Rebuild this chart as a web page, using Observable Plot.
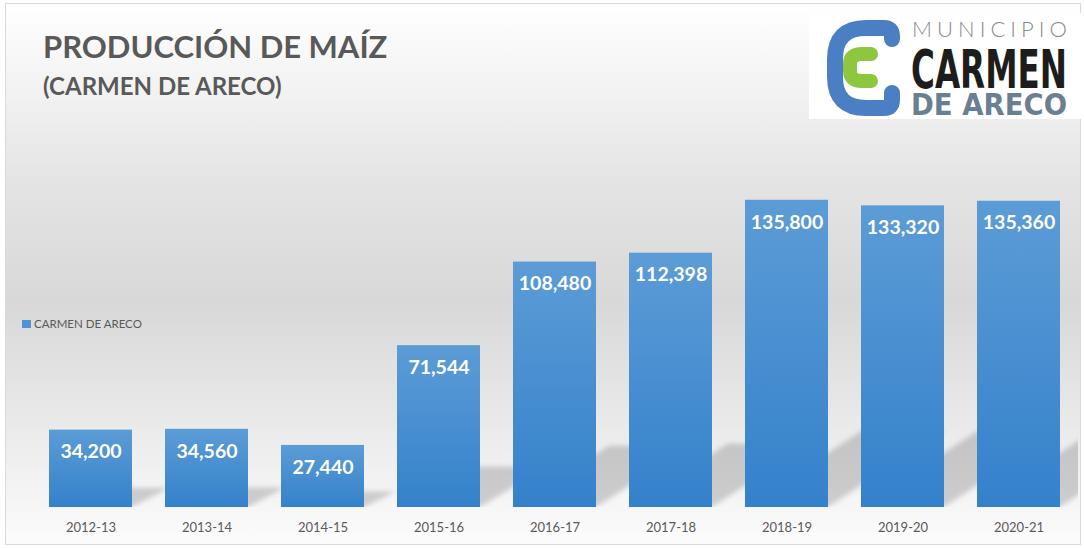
<!DOCTYPE html>
<html><head><meta charset="utf-8">
<script src="https://cdn.jsdelivr.net/npm/d3@7"></script>
<script src="https://cdn.jsdelivr.net/npm/@observablehq/plot@0.6"></script>
<style>
body{margin:0;background:#fff;font-family:Lato,"Open Sans",sans-serif;}
#wrap{position:relative;width:1084px;height:548px;overflow:hidden;}
#frame{position:absolute;left:5px;top:3px;width:1074px;height:540px;border:1px solid #d9d9d9;
background:linear-gradient(to bottom,#ffffff 0%,#efefef 20%,#e4e4e4 33%,#d8d8d8 55%,#e9e9e9 77%,#fcfcfc 100%);}
#chart{position:absolute;left:0;top:0;}
#overlay{position:absolute;left:0;top:0;font-family:Lato,"Open Sans",sans-serif;}
</style></head>
<body>
<div id="wrap">
  <div id="frame"></div>
  <div id="chart"></div>
  <svg id="overlay" width="1084" height="548">
    <text x="43" y="58" font-size="31" font-weight="700" fill="#595959">PRODUCCIÓN DE MAÍZ</text>
    <text x="43" y="95" font-size="24" font-weight="700" fill="#595959">(CARMEN DE ARECO)</text>
    <rect x="22" y="320" width="9" height="8" fill="#4f93d4"/>
    <text x="34" y="328" font-size="11.5" fill="#595959">CARMEN DE ARECO</text>
    <g id="logo">
      <rect x="809" y="13" width="273" height="106" fill="#fff"/>
      <path d="M 892 39 V 36 Q 892 28 884 28 H 866 Q 835 28 835 59 V 77 Q 835 108 866 108 H 884 Q 892 108 892 100 V 93" fill="none" stroke="#4a7fc4" stroke-width="16" stroke-linecap="round"/>
      <path d="M 871 54 H 862 Q 850 54 850 64 V 71 Q 850 81 862 81 H 871" fill="none" stroke="#8dc63f" stroke-width="14" stroke-linecap="round"/>
      <text x="912" y="37" font-size="22" font-weight="300" fill="#8a8a8a" textLength="155" lengthAdjust="spacing">MUNICIPIO</text>
      <text transform="translate(911,88) scale(1,1.35)" x="0" y="0" font-size="40" font-weight="700" fill="#1d1d1b" textLength="156" lengthAdjust="spacingAndGlyphs" font-family="'DejaVu Sans Condensed','DejaVu Sans',sans-serif">CARMEN</text>
      <text transform="translate(911,115) scale(1,1.25)" x="0" y="0" font-size="24" font-weight="700" fill="#6b7f93" textLength="156" lengthAdjust="spacingAndGlyphs" font-family="'DejaVu Sans Condensed','DejaVu Sans',sans-serif">DE ARECO</text>
    </g>
  </svg>
</div>
<script>
const seasons = ["2012-13","2013-14","2014-15","2015-16","2016-17","2017-18","2018-19","2019-20","2020-21"];
const values = [34200, 34560, 27440, 71544, 108480, 112398, 135800, 133320, 135360];
const seriesName = "CARMEN DE ARECO";

const data = seasons.map((s, i) => ({season: s, value: values[i], series: seriesName}));

const chart = Plot.plot({
  width: 1084, height: 548,
  marginLeft: 31, marginRight: 6, marginTop: 145, marginBottom: 41,
  style: {background: "transparent", fontFamily: "Lato, 'Open Sans', sans-serif", fontSize: "13px", color: "#595959"},
  x: {domain: seasons, paddingInner: 0.286, paddingOuter: 0.146, label: null, tickSize: 0, tickPadding: 15},
  y: {domain: [0, 160000], axis: null},
  marks: [
    Plot.barY(data, {x: "season", y: "value", fill: "url(#barGrad)"}),
    Plot.text(data, {x: "season", y: "value", text: d => d3.format(",")(d.value), dy: 22,
      fill: "white", fontSize: 19.5, fontWeight: "bold"})
  ]
});
document.getElementById("chart").appendChild(chart);

// defs: gradient, blur, clip
const ns = "http://www.w3.org/2000/svg";
const defs = document.createElementNS(ns, "defs");
defs.innerHTML = `<linearGradient id="barGrad" x1="0" y1="0" x2="0" y2="1">
  <stop offset="0" stop-color="#5c9cd6"/><stop offset="1" stop-color="#3481cb"/></linearGradient>
  <filter id="shBlur" x="-50%" y="-50%" width="200%" height="200%"><feGaussianBlur stdDeviation="2.5"/></filter>
  <clipPath id="plotClip"><rect x="0" y="0" width="1078" height="${chart.scale("y").apply(0)}"/></clipPath>`;
chart.insertBefore(defs, chart.firstChild);

// perspective shadows behind bars, positioned from the rendered bars
const barG = chart.querySelector('g[aria-label="bar"]');
if (barG) {
  const base = chart.scale("y").apply(0);
  const sg = document.createElementNS(ns, "g");
  sg.setAttribute("clip-path", "url(#plotClip)");
  const inner = document.createElementNS(ns, "g");
  inner.setAttribute("filter", "url(#shBlur)");
  if (barG.getAttribute("transform")) inner.setAttribute("transform", barG.getAttribute("transform"));
  sg.appendChild(inner);
  barG.querySelectorAll("rect").forEach(r => {
    const x = +r.getAttribute("x"), w = +r.getAttribute("width"), h = +r.getAttribute("height");
    const dy = 0.25 * h, dx = 0.35 * h + 10;
    const p = document.createElementNS(ns, "polygon");
    p.setAttribute("points", `${x},${base} ${x + w},${base} ${x + w + dx},${base - dy} ${x + dx},${base - dy}`);
    p.setAttribute("fill", "#000");
    p.setAttribute("fill-opacity", "0.17");
    inner.appendChild(p);
  });
  barG.parentNode.insertBefore(sg, barG);
}
</script>
</body></html>
